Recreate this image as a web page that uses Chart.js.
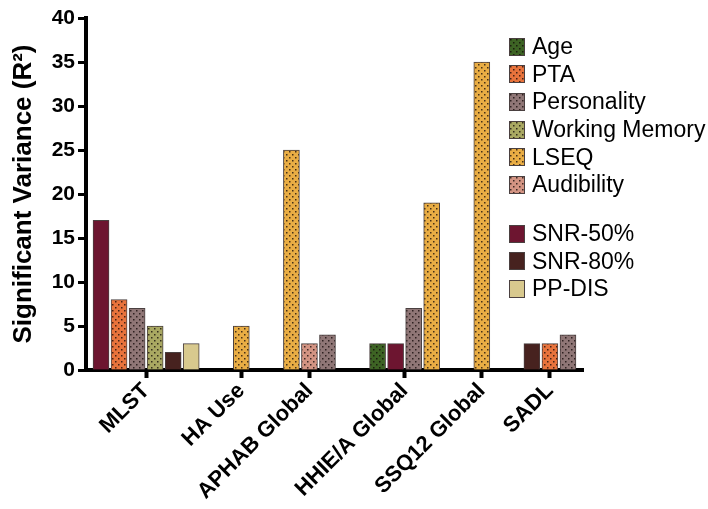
<!DOCTYPE html>
<html><head><meta charset="utf-8">
<script src="https://cdn.jsdelivr.net/npm/chart.js@4/dist/chart.umd.min.js"></script>
<style>
html,body{margin:0;padding:0;background:#fff;}
#wrap{position:relative;width:708px;height:509px;overflow:hidden;}
#legend{position:absolute;left:509px;top:33px;font-family:'Liberation Sans',Arial,sans-serif;font-size:23px;color:#000;}
.row{display:flex;align-items:center;height:27.6px;white-space:nowrap;}
.row canvas{margin-right:7px;display:block;}
.gap{height:21.4px;}
</style></head>
<body>
<div id="wrap"><canvas id="c" width="708" height="509"></canvas><div id="legend"></div></div>
<script>
// ---- data ----
const categories = ['MLST', 'HA Use', 'APHAB Global', 'HHIE/A Global', 'SSQ12 Global', 'SADL'];
const seriesNames = ['Age', 'PTA', 'Personality', 'Working Memory', 'LSEQ', 'Audibility', 'SNR-50%', 'SNR-80%', 'PP-DIS'];
const age           = [null, null, null, 3, null, null];
const pta           = [8, null, null, null, null, 3];
const personality   = [7, null, 4, 7, null, 4];
const workingMemory = [5, null, null, null, null, null];
const lseq          = [null, 5, 25, 19, 35, null];
const audibility    = [null, null, 3, null, null, null];
const snr50         = [17, null, null, 3, null, null];
const snr80         = [2, null, null, null, null, 3];
const ppdis         = [3, null, null, null, null, null];
// order of bars inside each category
const barOrder = [
  ['SNR-50%', 'PTA', 'Personality', 'Working Memory', 'SNR-80%', 'PP-DIS'],
  ['LSEQ'],
  ['LSEQ', 'Audibility', 'Personality'],
  ['Age', 'SNR-50%', 'Personality', 'LSEQ'],
  ['LSEQ'],
  ['SNR-80%', 'PTA', 'Personality']
];
const yTicks = [0, 5, 10, 15, 20, 25, 30, 35, 40];

// ---- style ----
const seriesValues = [age, pta, personality, workingMemory, lseq, audibility, snr50, snr80, ppdis];
const colors = ['#3d6324', '#e8733c', '#8f7676', '#a9a862', '#e9ad44', '#d39483', '#6d1530', '#47221f', '#d8c98e'];
const dotted = [true, true, true, true, true, true, false, false, false];
const FONT = "'Liberation Sans', Arial, Helvetica, sans-serif";

function makePattern(ctx, color) {
  const c = document.createElement('canvas'); c.width = 6; c.height = 6;
  const g = c.getContext('2d');
  g.fillStyle = color; g.fillRect(0, 0, 6, 6);
  g.fillStyle = 'rgba(15,5,5,0.75)';
  g.fillRect(1, 1, 1.5, 1.5); g.fillRect(4, 4, 1.5, 1.5);
  return ctx.createPattern(c, 'repeat');
}

const canvas = document.getElementById('c');
const ctx = canvas.getContext('2d');
const fills = colors.map((col, i) => dotted[i] ? makePattern(ctx, col) : col);

// positions of bars along a linear axis (1 unit = one bar slot)
const GAP = 50 / 18, PAD = 15 / 18;
const points = seriesNames.map(() => []);
const centers = [];
let pos = 0;
barOrder.forEach((names, gi) => {
  const first = pos;
  names.forEach(n => {
    const si = seriesNames.indexOf(n);
    points[si].push({ x: pos, y: seriesValues[si][gi] });
    pos += 1;
  });
  const last = pos - 1;
  centers.push((first + last) / 2);
  pos = last + GAP;
});
const xMax = pos - GAP + PAD;

const datasets = seriesNames.map((n, i) => ({
  label: n,
  data: points[i],
  backgroundColor: fills[i],
  borderColor: '#4a4040',
  borderWidth: 1,
  barThickness: 16,
  grouped: false
}));

new Chart(canvas, {
  type: 'bar',
  data: { datasets },
  options: {
    responsive: false,
    animation: false,
    layout: { padding: { top: 18, right: 125, left: 0, bottom: 0 } },
    plugins: { legend: { display: false }, tooltip: { enabled: false } },
    scales: {
      x: {
        type: 'linear', min: -PAD, max: xMax, bounds: 'data', offset: false,
        afterBuildTicks: s => { s.ticks = centers.map(v => ({ value: v })); },
        afterFit: s => { s.height = 139; },
        ticks: {
          autoSkip: false, minRotation: 45, maxRotation: 45, padding: 0,
          color: '#000', font: { family: FONT, size: 22, weight: 'bold' },
          callback: (v, i) => categories[i]
        },
        grid: { display: true, drawOnChartArea: false, offset: false, tickLength: 8, tickWidth: 4, tickColor: '#000' },
        border: { display: true, width: 4, color: '#000' }
      },
      y: {
        min: 0, max: 40,
        afterBuildTicks: s => { s.ticks = yTicks.map(v => ({ value: v })); },
        afterFit: s => { s.width = 86; },
        ticks: { color: '#000', padding: 3, font: { family: FONT, size: 21, weight: 'bold' } },
        grid: { display: true, drawOnChartArea: false, tickLength: 8, tickWidth: 3, tickColor: '#000' },
        border: { display: true, width: 4, color: '#000' },
        title: { display: true, text: 'Significant Variance (R²)', color: '#000', padding: { top: 8, bottom: 0 }, font: { family: FONT, size: 26, weight: 'bold' } }
      }
    }
  }
});

// legend (two groups separated by a gap)
const legend = document.getElementById('legend');
seriesNames.forEach((n, i) => {
  if (i === 6) { const g = document.createElement('div'); g.className = 'gap'; legend.appendChild(g); }
  const row = document.createElement('div'); row.className = 'row';
  const sw = document.createElement('canvas'); sw.width = 16; sw.height = 18;
  const sc = sw.getContext('2d');
  sc.fillStyle = dotted[i] ? makePattern(sc, colors[i]) : colors[i];
  sc.fillRect(0, 0, 16, 18);
  sc.strokeStyle = '#4a4040'; sc.lineWidth = 1; sc.strokeRect(0.5, 0.5, 15, 17);
  const t = document.createElement('span'); t.textContent = n;
  row.appendChild(sw); row.appendChild(t); legend.appendChild(row);
});
</script>
</body></html>
